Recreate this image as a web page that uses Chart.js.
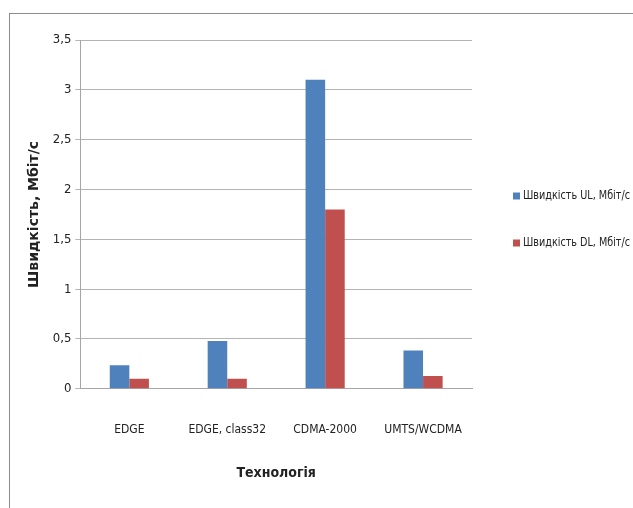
<!DOCTYPE html>
<html>
<head>
<meta charset="utf-8">
<script src="https://cdn.jsdelivr.net/npm/chart.js@4.4.0/dist/chart.umd.min.js"></script>
<style>
  html, body { margin: 0; padding: 0; background: #fff; }
  #wrap { width: 633px; height: 508px; position: relative; }
</style>
</head>
<body>
<div id="wrap"><canvas id="speed"></canvas></div>
<script>
'use strict';

// Технології та швидкості передачі, Мбіт/с
const technologies = ['EDGE', 'EDGE, class32', 'CDMA-2000', 'UMTS/WCDMA'];
const speedUL = [0.236, 0.48, 3.1, 0.384];
const speedDL = [0.1, 0.1, 1.8, 0.128];
const yTicks = [0, 0.5, 1, 1.5, 2, 2.5, 3, 3.5];

const FONT = "'DejaVu Sans Condensed', 'DejaVu Sans', sans-serif";

// рамка навколо всієї діаграми
const frame = {
  id: 'frame',
  beforeDraw(chart) {
    const ctx = chart.ctx;
    ctx.save();
    ctx.strokeStyle = '#8c8c8c';
    ctx.lineWidth = 1;
    ctx.strokeRect(9.5, 13.5, 700, 600);
    ctx.restore();
  },
};

// легенда справа від області побудови
const sideLegend = {
  id: 'sideLegend',
  afterDraw(chart) {
    const ctx = chart.ctx;
    const x = chart.chartArea.right + 41;
    const y0 = 196, step = 47, maxW = 107;
    ctx.save();
    ctx.font = `13px ${FONT}`;
    ctx.textBaseline = 'middle';
    chart.data.datasets.forEach((ds, i) => {
      const y = y0 + i * step;
      ctx.fillStyle = ds.backgroundColor;
      ctx.fillRect(x, y - 3.5, 7, 7);
      ctx.fillStyle = '#222';
      // вузький шрифт: стискаємо підпис по ширині
      const w = ctx.measureText(ds.label).width;
      const k = Math.min(1, maxW / w);
      ctx.save();
      ctx.translate(x + 10, y);
      ctx.scale(k, 1);
      ctx.fillText(ds.label, 0, 0);
      ctx.restore();
    });
    ctx.restore();
  },
};

new Chart(document.getElementById('speed'), {
  type: 'bar',
  data: {
    labels: technologies,
    datasets: [
      { label: 'Швидкість UL, Мбіт/с', data: speedUL, backgroundColor: '#4f81bd' },
      { label: 'Швидкість DL, Мбіт/с', data: speedDL, backgroundColor: '#c0504d' },
    ],
  },
  options: {
    responsive: true,
    maintainAspectRatio: false,
    animation: false,
    categoryPercentage: 0.4,
    barPercentage: 1.0,
    layout: { padding: { top: 40, left: 22, right: 161, bottom: 22 } },
    plugins: {
      tooltip: { enabled: false },
      legend: { display: false },
    },
    scales: {
      x: {
        grid: { display: false },
        border: { display: true, color: '#a6a6a6' },
        ticks: { color: '#222', padding: 26, font: { family: FONT, size: 12 } },
        title: {
          display: true,
          text: 'Технологія',
          color: '#222',
          padding: { top: 2 },
          font: { family: FONT, size: 14, weight: 'bold' },
        },
      },
      y: {
        min: 0,
        max: 3.5,
        afterBuildTicks(axis) { axis.ticks = yTicks.map(v => ({ value: v })); },
        grid: { color: '#b4b4b4', tickLength: 5 },
        border: { display: true, color: '#a6a6a6' },
        ticks: {
          color: '#222',
          padding: 4,
          font: { family: FONT, size: 13 },
          callback: v => String(v).replace('.', ','),
        },
        title: {
          display: true,
          text: 'Швидкість, Мбіт/с',
          color: '#222',
          padding: { bottom: 6 },
          font: { family: "'DejaVu Sans', sans-serif", size: 14, weight: 'bold' },
        },
      },
    },
  },
  plugins: [frame, sideLegend],
});
</script>
</body>
</html>
